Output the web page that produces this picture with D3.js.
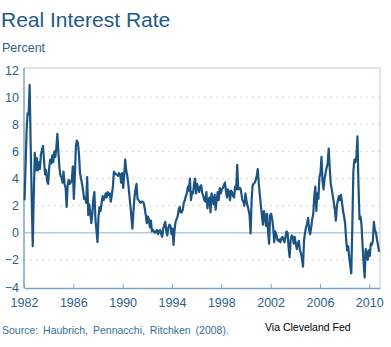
<!DOCTYPE html>
<html>
<head>
<meta charset="utf-8">
<script src="https://cdn.jsdelivr.net/npm/d3@7"></script>
<style>
  body { margin: 0; background: #fff; }
  svg { display: block; font-family: "Liberation Sans", Arial, sans-serif; }
</style>
</head>
<body>
<div id="chart"></div>
<script>
/* DATA */
// monthly real interest rate, percent, starting January 1982
const startYear = 1982;
const realRate = [
  2.4, 4.8, 7.5, 8.8, 8.7, 10.9, 6.5, 2.5, -1.0, 2.8, 5.9, 4.6,   // 1982
  5.5, 4.6, 5.2, 4.7, 5.8, 6.1, 6.4, 5.3, 4.3, 4.6, 3.8, 3.6,     // 1983
  4.8, 5.4, 5.1, 5.7, 5.2, 6.0, 5.6, 6.3, 7.3, 5.9, 4.8, 4.2,     // 1984
  4.1, 3.7, 4.5, 3.6, 3.3, 1.9, 3.5, 3.9, 3.6, 3.7, 3.9, 4.9,     // 1985
  2.5, 4.2, 6.4, 6.8, 6.6, 5.8, 4.4, 4.0, 3.6, 3.1, 2.5, 2.6,     // 1986
  2.2, 4.1, 1.3, 2.1, 1.5, 0.7, 1.4, 2.5, 3.0, 1.0, 0.2, -0.7,    // 1987
  1.2, 1.9, 1.6, 2.2, 2.7, 2.4, 2.6, 2.9, 2.6, 3.0, 2.8, 2.9,     // 1988
  2.3, 2.8, 3.4, 4.5, 4.4, 4.3, 4.3, 4.2, 4.4, 4.3, 3.7, 4.4,     // 1989
  3.3, 4.2, 5.4, 4.6, 4.2, 3.6, 2.8, 2.0, 1.2, 0.3, 1.6, 2.6,     // 1990
  3.2, 3.6, 2.5, 2.4, 2.3, 2.2, 2.3, 2.3, 2.2, 1.8, 1.3, 0.7,     // 1991
  1.2, 1.0, 0.4, 0.9, 0.1, 0.2, 0.1, 0.0, 0.1, 0.2, -0.1, 0.1,    // 1992
  0.2, -0.1, -0.3, 0.3, 0.6, 0.8, 0.1, -0.2, 0.4, 0.6, 0.5, -0.1, // 1993
  0.3, -0.9, 0.2, 0.8, 1.0, 1.2, 1.7, 1.9, 1.5, 1.5, 1.7, 2.2,    // 1994
  2.4, 2.7, 2.9, 3.4, 3.1, 4.0, 2.4, 3.0, 2.9, 3.6, 4.0, 2.9,     // 1995
  3.6, 3.3, 3.0, 3.4, 3.5, 2.9, 2.7, 2.4, 2.3, 3.0, 1.8, 2.4,     // 1996
  2.6, 1.5, 2.9, 2.5, 2.1, 2.8, 1.7, 2.4, 3.0, 2.4, 3.3, 2.9,     // 1997
  3.2, 3.3, 3.5, 3.7, 3.1, 2.6, 3.2, 3.0, 2.4, 3.1, 3.0, 2.7,     // 1998
  2.6, 3.4, 3.2, 5.0, 3.2, 3.3, 3.3, 2.9, 2.4, 2.3, 2.0, 2.9,     // 1999
  2.4, 2.0, 1.7, 1.3, -0.05, 2.4, 3.5, 3.6, 3.7, 3.9, 4.2, 4.7,   // 2000
  3.6, 2.8, 2.0, 1.3, 0.6, 1.6, 1.2, 0.5, 1.4, 0.1, -0.8, 1.3,    // 2001
  1.4, 1.0, 0.4, -0.7, 0.1, -0.1, -0.5, -0.6, -0.5, -0.7, -0.4, -0.3, // 2002
  -0.5, -0.7, -0.3, 0.1, 0.0, -1.1, -1.8, -0.5, -0.2, -0.3, -0.8, -0.3, // 2003
  -0.8, -1.2, -0.8, -0.6, -1.3, -1.5, -1.9, -2.5, -0.6, 0.0, 0.4, 0.7, // 2004
  1.1, 0.2, -0.1, 0.4, 1.0, 1.4, 2.7, 3.4, 1.6, 2.9, 2.5, 4.1,    // 2005
  4.4, 5.6, 3.8, 3.2, 4.0, 4.4, 4.8, 5.1, 6.2, 4.8, 3.6, 3.2,     // 2006
  2.7, 2.2, 1.7, 0.9, 2.0, 2.4, 2.7, 2.4, 2.8, 2.2, 1.6, 1.2,     // 2007
  0.7, -0.5, -1.3, -1.0, -1.8, -2.4, -3.0, 0.5, 4.5, 5.4, 5.2, 5.6, // 2008
  7.1, 3.5, 1.0, 1.2, 0.5, -1.0, -2.2, -3.3, -1.2, -1.5, -2.0, -1.3, // 2009
  -1.7, -0.8, -0.9, -0.6, 0.8, 0.2, 0.0, -0.5, -0.9, -1.4          // 2010
];
const yearTicks = [1982, 1986, 1990, 1994, 1998, 2002, 2006, 2010];
const rateTicks = [-4, -2, 0, 2, 4, 6, 8, 10, 12];
const gridValues = [-2, 2, 4, 6, 8, 10];

/* LAYOUT */
const width = 391,
  height = 347,
  plot = { left: 24, right: 380, top: 68, bottom: 288 };

const navy = "#1b5482",
  labelColor = "#2d5f8c";

const points = realRate.map((v, i) => ({ t: startYear + (i + 0.5) / 12, v: v }));

/* SCALES */
const xScale = d3.scaleLinear()
  .domain([1982, 2010.87])
  .range([plot.left, plot.right]);

const yScale = d3.scaleLinear()
  .domain([-4, 12])
  .range([287, 70]);

const svg = d3.select("#chart")
  .append("svg")
  .attr("width", width)
  .attr("height", height);

// titles
svg.append("text")
  .attr("x", 1)
  .attr("y", 27)
  .attr("fill", "#1d5a8a")
  .attr("font-size", 21)
  .text("Real Interest Rate");

svg.append("text")
  .attr("x", 2)
  .attr("y", 52)
  .attr("fill", labelColor)
  .attr("font-size", 12.5)
  .text("Percent");

// light frame on top and right
svg.append("path")
  .attr("d", `M${plot.left},${plot.top}H${plot.right}V${plot.bottom}`)
  .attr("fill", "none")
  .attr("stroke", "#d6dde5")
  .attr("stroke-width", 1.5);

// dotted gridlines
svg.selectAll("line.grid")
  .data(gridValues)
  .join("line")
  .attr("class", "grid")
  .attr("x1", plot.left)
  .attr("x2", plot.right)
  .attr("y1", d => yScale(d))
  .attr("y2", d => yScale(d))
  .attr("stroke", "#d8d8d8")
  .attr("stroke-width", 1)
  .attr("stroke-dasharray", "2,4");

// zero line
svg.append("line")
  .attr("x1", plot.left)
  .attr("x2", plot.right)
  .attr("y1", yScale(0))
  .attr("y2", yScale(0))
  .attr("stroke", "#b4c9db")
  .attr("stroke-width", 1.5);

// AXES
const xAxis = d3.axisBottom(xScale)
  .tickValues(yearTicks)
  .tickFormat(d3.format("d"))
  .tickSizeInner(-4)
  .tickSizeOuter(0)
  .tickPadding(10);

const xAxisGroup = svg.append("g")
  .attr("transform", `translate(0, ${plot.bottom})`)
  .call(xAxis);

xAxisGroup.select(".domain")
  .attr("stroke", "#7ea3c3")
  .attr("stroke-width", 1.5);
xAxisGroup.selectAll(".tick line")
  .attr("stroke", "#7ea3c3");
xAxisGroup.selectAll(".tick text")
  .attr("fill", labelColor)
  .attr("font-size", 12.5)
  .attr("font-family", "Liberation Sans, Arial, sans-serif");

const yAxis = d3.axisLeft(yScale)
  .tickValues(rateTicks)
  .tickSize(0)
  .tickPadding(5);

const yAxisGroup = svg.append("g")
  .attr("transform", `translate(${plot.left}, 0)`)
  .call(yAxis);

yAxisGroup.select(".domain")
  .attr("d", `M0,${plot.top}V${plot.bottom}`)
  .attr("stroke", "#7ea3c3")
  .attr("stroke-width", 1.5);
yAxisGroup.selectAll(".tick text")
  .attr("fill", labelColor)
  .attr("font-size", 12.5)
  .attr("font-family", "Liberation Sans, Arial, sans-serif");

// the rate line
const lineFunction = d3.line()
  .x(d => xScale(d.t))
  .y(d => yScale(d.v));

svg.append("path")
  .datum(points)
  .attr("fill", "none")
  .attr("stroke", navy)
  .attr("stroke-width", 2.2)
  .attr("stroke-linejoin", "round")
  .attr("d", lineFunction);

// footer
svg.append("text")
  .attr("x", 2)
  .attr("y", 334)
  .attr("fill", "#3a6e9c")
  .attr("font-size", 10.5)
  .attr("word-spacing", 2)
  .text("Source: Haubrich, Pennacchi, Ritchken (2008).");

svg.append("text")
  .attr("x", 265)
  .attr("y", 331)
  .attr("fill", "#000")
  .attr("font-size", 10.5)
  .text("Via Cleveland Fed");
</script>
</body>
</html>
